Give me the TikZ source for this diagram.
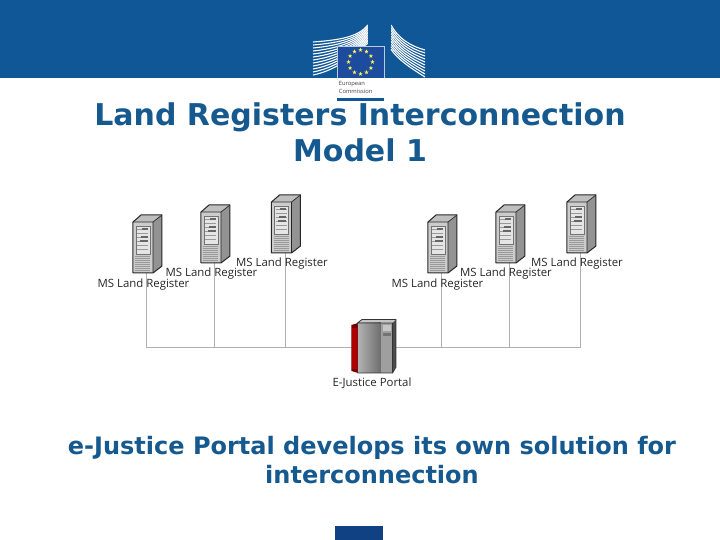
\documentclass[tikz,border=0pt]{standalone}
\usepackage{fontspec}
\setmainfont{Open Sans}
\newfontfamily\titlefont{DejaVu Sans}
\usetikzlibrary{shapes.geometric}
\definecolor{ecblue}{HTML}{0F5796}
\definecolor{ecdark}{HTML}{0F4183}
\definecolor{flagblue}{HTML}{1D4C9E}
\definecolor{headtext}{HTML}{15598F}
\definecolor{linegray}{HTML}{B0B0B0}
\tikzset{
  titletext/.style={text=headtext, font=\titlefont\bfseries\fontsize{15}{18}\selectfont, align=center, inner sep=0pt},
  bodytext/.style={text=headtext, font=\titlefont\bfseries\fontsize{12}{14.5}\selectfont, align=center, inner sep=0pt},
  reglabel/.style={text=black!85, font=\fontsize{5.7}{6}\selectfont, inner sep=0pt},
  busline/.style={draw=linegray, line width=0.5pt},
  euStar/.style={star, star points=5, star point ratio=2.4, fill=yellow!70!white, inner sep=0pt, minimum size=2.2pt},
  pics/server/.style={code={
    % bok, virsus, priekis
    \fill[gray!85] (20,0) -- (29,-7) -- (29,-58) -- (20,-51) -- cycle;
    \fill[gray!50] (0,-51) -- (8,-58) -- (29,-58) -- (20,-51) -- cycle;
    \fill[gray!40] (0,0) rectangle (20,-51);
    \draw[black!85, line width=0.5pt, line join=round] (0,0) -- (20,0) -- (29,-7) -- (29,-58) -- (8,-58) -- (0,-51) -- cycle;
    \draw[black!85, line width=0.35pt] (0,-51) -- (20,-51) -- (29,-58) (20,-51) -- (20,0);
    % panelis
    \draw[gray!90!black, fill=gray!20, line width=0.4pt] (3,-19) rectangle (17,-47);
    \foreach \yy in {-24,-28,-32,-36,-40,-44}
      \draw[gray!80, line width=0.4pt] (4.5,\yy) -- (15.5,\yy);
    \draw[black!60, line width=0.6pt] (8,-36) -- (15,-36) (7,-32) -- (15,-32) (9,-44) -- (15,-44);
    % grotelės
    \foreach \yy in {-3,-5,...,-17}
      \draw[gray!80, line width=0.4pt] (2.5,\yy) -- (17.5,\yy);
  }},
}
\begin{document}
\begin{tikzpicture}[x=0.5pt, y=-0.5pt]
  \useasboundingbox (0,0) rectangle (720,540);
  % Antraštė
  \fill[ecblue] (0,0) rectangle (720,78);
  \fill[ecdark] (335,526) rectangle (383,540);

  % Pastatas
  \foreach \dd in {0,3,...,33}
    \draw[white, line width=0.55pt] (313,42+\dd) .. controls (340,40+\dd*0.9) and (358,37+\dd*0.4) .. (368,25+\dd*0.55);
  \foreach \dd in {0,3,...,27}
    \draw[white, line width=0.55pt] (391,25+\dd*0.9) .. controls (398,38+\dd*0.8) and (410,46+\dd*0.8) .. (425,50+\dd);
  \fill[ecblue] (368,20) rectangle (391,46);

  % Vėliava
  \fill[flagblue] (337,46) rectangle (384,78);
  \draw[white!70!flagblue, line width=0.3pt] (337,78) -- (337,46) -- (384,46) -- (384,78);
  \foreach \aa in {0,30,...,330}
    \node[euStar] at ({360.5+12*cos(\aa)}, {62+12*sin(\aa)}) {};

  \node[text=black!75, font=\fontsize{2.9}{4}\selectfont, align=left, inner sep=0pt, anchor=north west] (ecname) at (338.5,81) {European\\Commission};
  \fill[ecblue] (337,98) rectangle (384,101);

  \node[titletext] (title) at (360,132) {Land Registers Interconnection\\Model 1};

  % Kairė pusė
  \coordinate (busA) at (147,348);
  \coordinate (busB) at (215,348);
  \coordinate (busC) at (285.5,348);
  \coordinate (busD) at (442,348);
  \coordinate (busE) at (510,348);
  \coordinate (busF) at (581,348);
  \coordinate (srvA) at (147,273);
  \coordinate (srvB) at (215,263);
  \coordinate (srvC) at (285.5,253);
  \coordinate (srvD) at (442,273);
  \coordinate (srvE) at (510,263);
  \coordinate (srvF) at (581,253);

  \draw[busline] (busA) -- (busF);
  \draw[busline] (srvA) -- (busA);
  \draw[busline] (srvB) -- (busB);
  \draw[busline] (srvC) -- (busC);
  \draw[busline] (srvD) -- (busD);
  \draw[busline] (srvE) -- (busE);
  \draw[busline] (srvF) -- (busF);

  \pic at (133,273) {server};
  \pic at (201,263) {server};
  \pic at (271.5,253) {server};
  \pic at (428,273) {server};
  \pic at (496,263) {server};
  \pic at (567,253) {server};

  \node[reglabel] (regA) at (143.5,284.5) {MS Land Register};
  \node[reglabel] (regB) at (211.5,273.5) {MS Land Register};
  \node[reglabel] (regC) at (282,263.5) {MS Land Register};
  \node[reglabel] (regD) at (437.5,284.5) {MS Land Register};
  \node[reglabel] (regE) at (506,273.5) {MS Land Register};
  \node[reglabel] (regF) at (577,263.5) {MS Land Register};

  % Portalas
  \fill[red!45!black] (351.5,325) -- (358,323) -- (358,373) -- (351.5,371) -- cycle;
  \fill[red!70!black] (352.5,328) rectangle (357.5,369);
  \fill[black!70] (381,323) -- (396,319.5) -- (396,367) -- (392.5,373) -- (381,373) -- cycle;
  \fill[gray!45] (357.5,323) -- (362,319.5) -- (396,319.5) -- (392.5,323) -- cycle;
  \shade[left color=gray!60, right color=gray!115] (358,323) rectangle (381,373);
  \fill[gray!75] (381.5,323) rectangle (392.5,373);
  \fill[gray!45] (383,325) rectangle (391,331);
  \fill[gray!90!black] (383,333) rectangle (391,336);
  \draw[black!80, line width=0.4pt] (357.5,373) -- (392.5,373) -- (396,367) -- (396,319.5) -- (362,319.5) -- (357.5,323) -- (392.5,323) -- (392.5,373);
  \node[reglabel] (portal) at (372,383.5) {E-Justice Portal};

  \node[bodytext] (note) at (372,460) {e-Justice Portal develops its own solution for\\interconnection};
\end{tikzpicture}
\end{document}
